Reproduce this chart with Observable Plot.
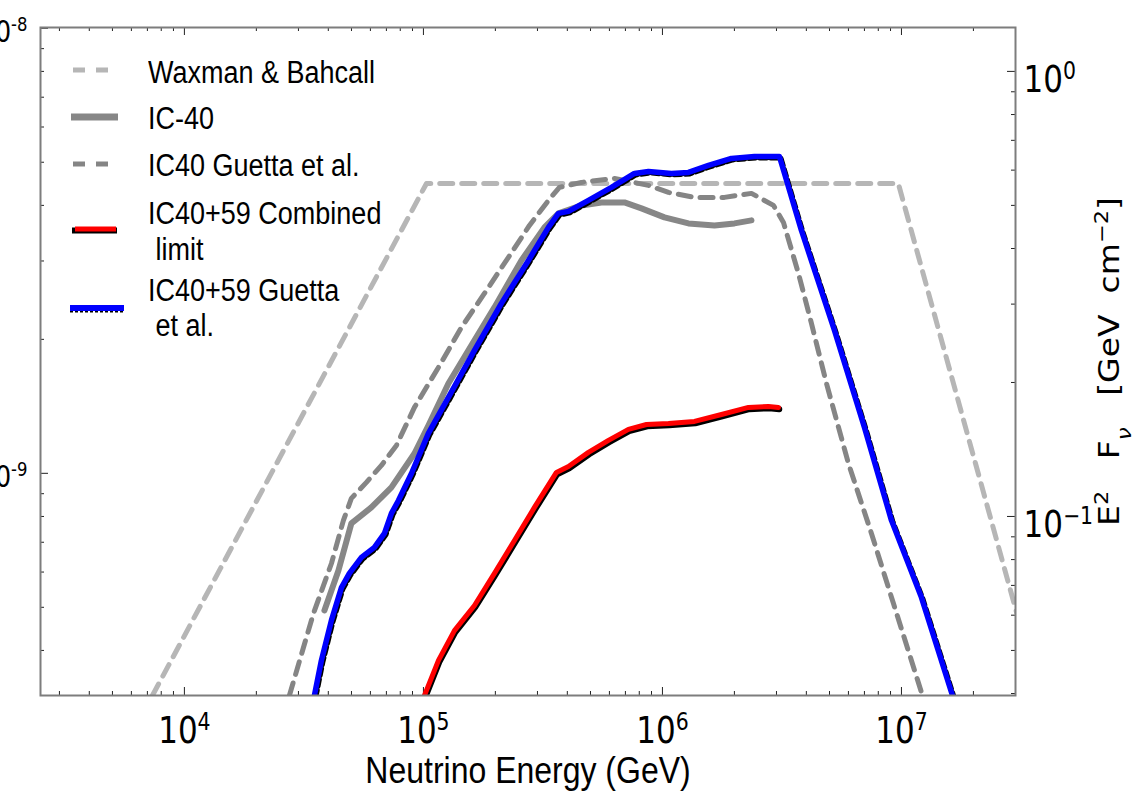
<!DOCTYPE html>
<html>
<head>
<meta charset="utf-8">
<script src="https://cdn.jsdelivr.net/npm/d3@7"></script>
<script src="https://cdn.jsdelivr.net/npm/@observablehq/plot@0.6"></script>
<style>
  html, body { margin: 0; padding: 0; background: #fff; }
  #wrap { position: relative; width: 1135px; height: 793px; overflow: hidden; background: #fff; }
  #legend { position: absolute; left: 0; top: 0; width: 420px; height: 345px; pointer-events: none; }
  .lt { position: absolute; left: 148px; height: 30px; line-height: 30px; font-family: "Liberation Sans", Arial, sans-serif;
        font-size: 27px; color: #000; white-space: pre; transform: scaleY(1.18); transform-origin: left center; }
</style>
</head>
<body>
<div id="wrap"></div>
<script>
// ---------------- data (energy in GeV, E^2 F in GeV cm^-2) ----------------
const wbE = [7350, 1.03e5, 9.7e6, 3.03e7];
const wbF = [0.0396, 0.560, 0.560, 0.0609];

const ic40E = [38530, 44100, 49950, 60560, 73470, 91700, 104900, 127200, 154300, 198200, 257000, 320800, 367200,
               458300, 555600, 693400, 817000, 1.02e6, 1.285e6, 1.651e6, 2.001e6, 2.357e6];
const ic40F = [0.0615, 0.0756, 0.0965, 0.1048, 0.1162, 0.1385, 0.1601, 0.1990, 0.2361, 0.2949, 0.3760, 0.4462, 0.4796,
               0.4999, 0.5077, 0.5077, 0.4923, 0.4698, 0.4555, 0.4508, 0.4555, 0.4627];

const ic40GuettaE = [27500, 34650, 41220, 46270, 49950, 57740, 66720, 77090, 91700, 115600, 144200, 179950, 226800,
                     277700, 333400, 370700, 458300, 629800, 873800, 1.06e6, 1.361e6, 1.817e6, 2.357e6, 2.914e6,
                     3.209e6, 3.707e6, 4.202e6, 4.856e6, 6.001e6, 7.49e6, 9.26e6, 1.224e7];
const ic40GuettaF = [0.0396, 0.0605, 0.0784, 0.0980, 0.1098, 0.1193, 0.1302, 0.1444, 0.1758, 0.2163, 0.2659, 0.3170, 0.3820,
                     0.4508, 0.5130, 0.5487, 0.5631, 0.5749, 0.5544, 0.5347, 0.5211, 0.5211, 0.5320, 0.4999,
                     0.4578, 0.3516, 0.2715, 0.1990, 0.1315, 0.0916, 0.0637, 0.0396];

const combinedE = [101000, 115600, 134800, 163500, 198200, 240300, 291400, 360100, 404400, 490200, 594400, 720500,
                   857400, 1.06e6, 1.361e6, 1.766e6, 2.29e6, 2.777e6, 3.058e6];
const combinedF = [0.0396, 0.0475, 0.0554, 0.0631, 0.0745, 0.0883, 0.1048, 0.1256, 0.1295, 0.1393, 0.1482, 0.1569,
                   0.1609, 0.1618, 0.1635, 0.1695, 0.1758, 0.1767, 0.1758];

const guetta59E = [34980, 37430, 41220, 45390, 49000, 55030, 62370, 68680, 73470, 78610, 89100, 104900, 127200, 163500,
                   212000, 275000, 333400, 367200, 404400, 490200, 611800, 763500, 873800, 1.091e6, 1.285e6, 1.558e6,
                   1.944e6, 2.426e6, 3.087e6, 3.815e6, 5.245e6, 7.001e6, 9.08e6, 1.212e7, 1.635e7];
const guetta59F = [0.0396, 0.0475, 0.0584, 0.0692, 0.0745, 0.0809, 0.0852, 0.0916, 0.1016, 0.1086, 0.1249, 0.1537, 0.1851, 0.2361,
                   0.3011, 0.3760, 0.4462, 0.4796, 0.4846, 0.5130, 0.5487, 0.5899, 0.5960, 0.5899, 0.5930, 0.6149,
                   0.6375, 0.6441, 0.6441, 0.4393, 0.2618, 0.1585, 0.0980, 0.0658, 0.0396];

// ---------------- axes ----------------
const xDomain = [2500, 3e7];
const yDomain = [0.0396, 1.255];
const xMajor = [1e4, 1e5, 1e6, 1e7];
const xTickLabels = ["10^4", "10^5", "10^6", "10^7"];
const yMajor = [0.1, 1];
const yTickLabels = ["10^\u22121", "10^0"];
const leftFactor = 1.25e8;              // left-axis units -> right-axis units
const leftMajor = [1e-9, 1e-8];
const leftTickLabels = ["10^-9", "10^-8"];
const xLabel = "Neutrino Energy (GeV)";
const yLabel = "E2 F\u03bd [GeV cm-2]";

const legendLabels = ["Waxman & Bahcall", "IC-40", "IC40 Guetta et al.", "IC40+59 Combined", " limit", "IC40+59 Guetta", " et al."];
const legendTextY = [72, 118, 164.5, 213, 248.5, 290, 325];

// minor tick positions
const xMinor = [];
for (let p = 3; p <= 7; p++) for (let m = 2; m <= 9; m++) { const v = m * 10 ** p; if (v > xDomain[0] && v < xDomain[1]) xMinor.push(v); }
const yMinor = [];
for (let p = -2; p <= 0; p++) for (let m = 2; m <= 9; m++) { const v = m * 10 ** p; if (v > yDomain[0] && v < yDomain[1]) yMinor.push(v); }
const leftMinor = [];
for (let p = -10; p <= -8; p++) for (let m = 2; m <= 9; m++) { const v = m * 10 ** p * leftFactor; if (v > yDomain[0] && v < yDomain[1]) leftMinor.push(v); }

const toRows = (E, F) => E.map((e, i) => ({E: e, F: F[i]}));

const W = 1135, H = 793, mL = 40, mR = 120, mT = 27, mB = 98;
const fw = W - mL - mR, fh = H - mT - mB;
const fmt = (vals, labels) => d => labels[vals.findIndex(v => Math.abs(v - d) / v < 1e-6)];

const tickColor = "#222";
const svg = Plot.plot({
  width: W, height: H,
  marginLeft: mL, marginRight: mR, marginTop: mT, marginBottom: mB,
  style: {fontFamily: "DejaVu Sans", background: "white", color: "black", overflow: "hidden"},
  x: {type: "log", domain: xDomain},
  y: {type: "log", domain: yDomain},
  marks: [
    // inward ticks
    Plot.tickX(xMajor, {x: d => d, insetTop: fh - 8, stroke: tickColor}),
    Plot.tickX(xMajor, {x: d => d, insetBottom: fh - 8, stroke: tickColor}),
    Plot.tickX(xMinor, {x: d => d, insetTop: fh - 4, stroke: tickColor}),
    Plot.tickX(xMinor, {x: d => d, insetBottom: fh - 4, stroke: tickColor}),
    Plot.tickY(yMajor, {y: d => d, insetLeft: fw - 8, stroke: tickColor}),
    Plot.tickY(yMinor, {y: d => d, insetLeft: fw - 4, stroke: tickColor}),
    Plot.tickY(leftMajor.map(d => d * leftFactor), {y: d => d, insetRight: fw - 8, stroke: tickColor}),
    Plot.tickY(leftMinor, {y: d => d, insetRight: fw - 4, stroke: tickColor}),

    // series
    Plot.line(toRows(wbE, wbF), {x: "E", y: "F", stroke: "#b6b6b6", strokeWidth: 5, strokeDasharray: "13,9", clip: true}),
    Plot.line(toRows(ic40GuettaE, ic40GuettaF), {x: "E", y: "F", stroke: "#858585", strokeWidth: 5, strokeDasharray: "13,9", clip: true}),
    Plot.line(toRows(ic40E, ic40F), {x: "E", y: "F", stroke: "#878787", strokeWidth: 6, clip: true}),
    Plot.line(toRows(combinedE, combinedF), {x: "E", y: "F", stroke: "black", strokeWidth: 6, dx: 0.8, dy: 1.8, clip: true}),
    Plot.line(toRows(combinedE, combinedF), {x: "E", y: "F", stroke: "#ff0000", strokeWidth: 5, clip: true}),
    Plot.line(toRows(guetta59E, guetta59F), {x: "E", y: "F", stroke: "black", strokeWidth: 5, strokeDasharray: "7,4", dx: 1.5, dy: 1.5, clip: true}),
    Plot.line(toRows(guetta59E, guetta59F), {x: "E", y: "F", stroke: "#0000ff", strokeWidth: 5.5, clip: true}),

    Plot.frame({stroke: "#7d7d7d", strokeWidth: 2}),

    // tick labels
    Plot.axisX(xMajor, {anchor: "bottom", tickSize: 0, tickPadding: 22, tickFormat: fmt(xMajor, xTickLabels), fontSize: 31, label: null}),
    Plot.axisY(yMajor, {anchor: "right", tickSize: 0, tickPadding: 8, tickFormat: fmt(yMajor, yTickLabels), fontSize: 31, label: null, dy: 9}),
    Plot.axisY(leftMajor.map(d => d * leftFactor), {anchor: "left", tickSize: 0, tickPadding: 13,
      tickFormat: fmt(leftMajor.map(d => d * leftFactor), leftTickLabels), fontSize: 25, label: null, dy: 4}),

    // axis titles
    Plot.text([xLabel], {text: d => d, frameAnchor: "bottom", dy: 87, fontFamily: "Liberation Sans", fontSize: 32}),
    Plot.text([yLabel], {text: d => d, frameAnchor: "right", textAnchor: "middle", dx: 95, rotate: -90, fontSize: 28})
  ]
});

document.getElementById("wrap").appendChild(svg);

// superscripts and vertical stretch of text (to match the reference's proportions)
svg.querySelectorAll("text").forEach(t => {
  const s = t.textContent;
  const m = s.match(/^10\^(.+)$/);
  let sx = 1, sy = 1.18;
  if (m) {
    t.innerHTML = `10<tspan dy="-0.55em" font-size="0.66em">${m[1]}</tspan>`;
  } else if (s === yLabel) {
    t.innerHTML = `E<tspan baseline-shift="super" font-size="0.68em">2</tspan>   F<tspan baseline-shift="sub" font-size="0.7em" font-style="italic">\u03bd</tspan>   [GeV  cm<tspan baseline-shift="super" font-size="0.68em">\u22122</tspan>]`;
    sx = 1.18; sy = 1;
  }
  const tr = t.getAttribute("transform") || "";
  t.setAttribute("transform", tr + ` scale(${sx},${sy})`);
});

// ---------------- legend (HTML overlay) ----------------
const legend = document.createElement("div");
legend.id = "legend";
legend.innerHTML = `
<svg width="200" height="345" style="position:absolute;left:0;top:0">
  <line x1="73" x2="108" y1="70" y2="70" stroke="#b6b6b6" stroke-width="5" stroke-dasharray="12,11"/>
  <line x1="71" x2="118" y1="117" y2="117" stroke="#878787" stroke-width="7"/>
  <line x1="73" x2="108" y1="164" y2="164" stroke="#858585" stroke-width="5" stroke-dasharray="12,11"/>
  <line x1="72" x2="117" y1="230.5" y2="230.5" stroke="#000" stroke-width="6"/>
  <line x1="75" x2="116" y1="229" y2="229" stroke="#ff0000" stroke-width="5"/>
  <line x1="70" x2="124" y1="310" y2="310" stroke="#000" stroke-width="5" stroke-dasharray="3,2"/>
  <line x1="70" x2="124" y1="308" y2="308" stroke="#0000ff" stroke-width="6"/>
</svg>`;
legendLabels.forEach((s, i) => {
  const d = document.createElement("div");
  d.className = "lt";
  d.style.top = (legendTextY[i] - 15) + "px";
  d.textContent = s;
  legend.appendChild(d);
});
document.getElementById("wrap").appendChild(legend);
</script>
</body>
</html>
